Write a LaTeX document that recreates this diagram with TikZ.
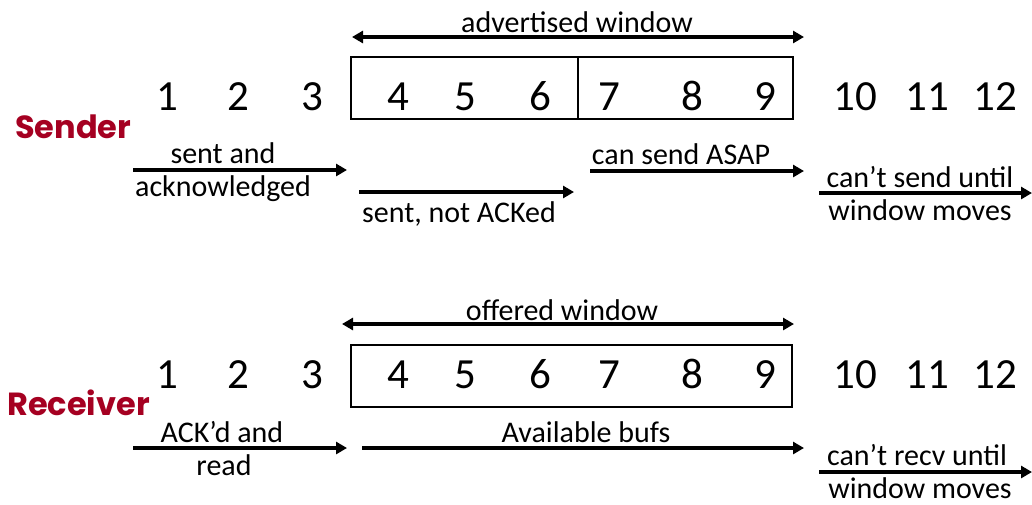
\documentclass[tikz,border=0pt]{standalone}
\usepackage{fontspec}
\setmainfont{Carlito}
\newfontfamily\rolefont{Poppins}
\usetikzlibrary{arrows.meta}
\definecolor{rolered}{RGB}{165,0,33}
\tikzset{
  num/.style={anchor=base, font=\fontsize{43}{43}\selectfont, inner sep=0pt},
  lbl/.style={anchor=base, font=\fontsize{30}{30}\selectfont, inner sep=0pt},
  role/.style={anchor=base west, font=\rolefont\bfseries\fontsize{32}{32}\selectfont, text=rolered, inner sep=0pt},
  arr/.style={-{Triangle[length=11pt,width=12pt]}, line width=4pt},
  darr/.style={{Triangle[length=11pt,width=12pt]}-{Triangle[length=11pt,width=12pt]}, line width=4pt},
  winbox/.style={draw, line width=1.8pt, inner sep=0pt},
}
\begin{document}
\begin{tikzpicture}[x=1pt,y=-1pt]
\useasboundingbox (0,0) rectangle (1032,504);

% ---------------- Sender ----------------
\node[winbox, minimum width=442pt, minimum height=62pt] (sbox) at (572,88) {};
\draw[line width=1.8pt] ([xshift=6pt]sbox.north) -- ([xshift=6pt]sbox.south);

\foreach \n/\x in {1/167,2/238,3/312,4/398,5/465,6/540,7/609,8/692,9/765,10/855,11/927,12/995}
  \node[num] (s\n) at (\x,110) {\n};

\node[role] (sender) at (15,138) {Sender};

\node[lbl] (adv) at (577,32) {advertised window};
\coordinate (advL) at (352,37);
\coordinate (advR) at (804,37);
\draw[darr] (advL) -- (advR);

\coordinate (a1s) at (133,170); \coordinate (a1e) at (347,170);
\draw[arr] (a1s) -- (a1e);
\node[lbl] (sa1) at (223,163) {sent and};
\node[lbl] (sa2) at (223,196) {acknowledged};

\coordinate (a2s) at (359,192); \coordinate (a2e) at (574,192);
\draw[arr] (a2s) -- (a2e);
\node[lbl] (sn) at (459,222) {sent, not ACKed};

\coordinate (a3s) at (590,171); \coordinate (a3e) at (804,171);
\draw[arr] (a3s) -- (a3e);
\node[lbl] (cs) at (681,164) {can send ASAP};

\coordinate (a4s) at (819,193); \coordinate (a4e) at (1032,193);
\draw[arr] (a4s) -- (a4e);
\node[lbl] (cn1) at (920,187) {can’t send until};
\node[lbl] (cn2) at (920,220) {window moves};

% ---------------- Receiver ----------------
\node[winbox, minimum width=441pt, minimum height=62pt] (rbox) at (571.5,376) {};

\foreach \n/\x in {1/167,2/238,3/312,4/398,5/465,6/540,7/609,8/692,9/765,10/855,11/927,12/995}
  \node[num] (r\n) at (\x,388) {\n};

\node[role] (receiver) at (7,415) {Receiver};

\node[lbl] (off) at (562,320) {offered window};
\coordinate (offL) at (342,324);
\coordinate (offR) at (794,324);
\draw[darr] (offL) -- (offR);

\coordinate (b1s) at (133,448); \coordinate (b1e) at (347,448);
\draw[arr] (b1s) -- (b1e);
\node[lbl] (ar1) at (222,442) {ACK’d and};
\node[lbl] (ar2) at (224,475) {read};

\coordinate (b2s) at (362,448); \coordinate (b2e) at (804,448);
\draw[arr] (b2s) -- (b2e);
\node[lbl] (ab) at (586,442) {Available bufs};

\coordinate (b3s) at (819,472); \coordinate (b3e) at (1032,472);
\draw[arr] (b3s) -- (b3e);
\node[lbl] (cr1) at (917,465) {can’t recv until};
\node[lbl] (cr2) at (920,498) {window moves};
\end{tikzpicture}
\end{document}
